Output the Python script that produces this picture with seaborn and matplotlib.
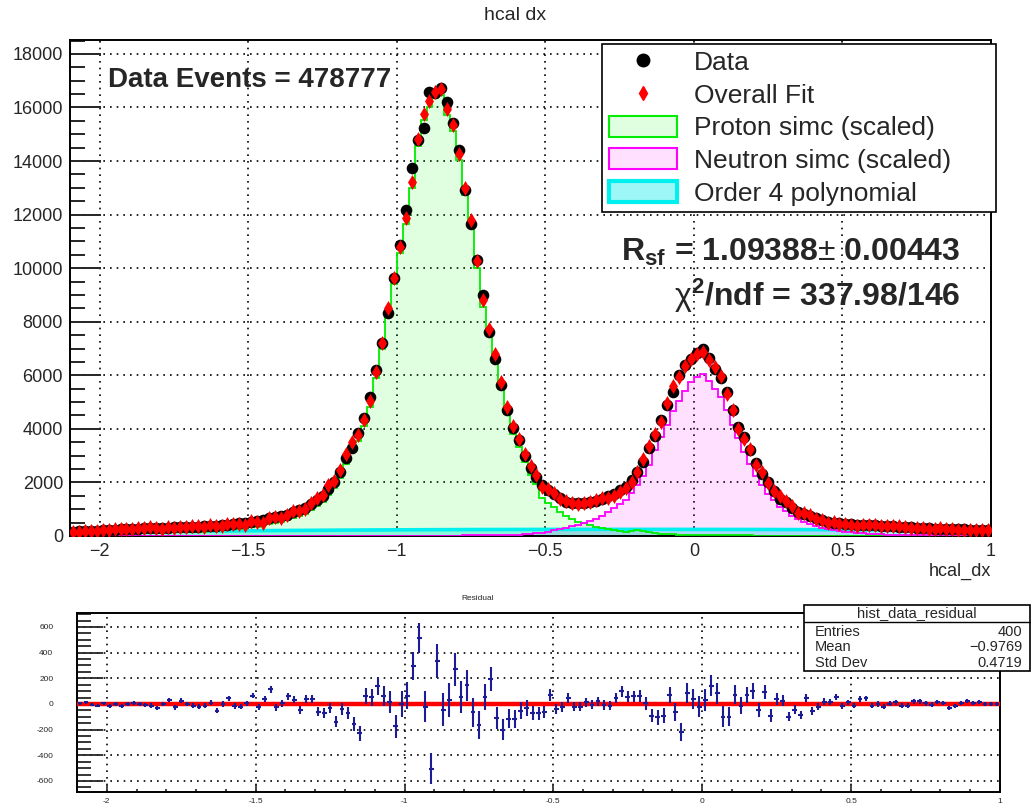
import numpy as np
import matplotlib
matplotlib.use("Agg")
import matplotlib.pyplot as plt
import seaborn as sns
from matplotlib.lines import Line2D
from matplotlib.patches import Patch, Rectangle
from matplotlib.ticker import MultipleLocator, FuncFormatter

# ---------------- data ----------------
x_min, x_max, n_bins = -2.1, 1.0, 155          # hcal_dx binning (0.02 wide)

data_counts = [
    160, 170, 180, 190, 200, 215, 225, 235, 245, 255,
    270, 280, 285, 295, 300, 310, 315, 325, 330, 335,
    340, 350, 360, 375, 390, 405, 425, 445, 470, 495,
    525, 560, 610, 660, 700, 750, 800, 880, 960, 1060,
    1180, 1330, 1500, 1750, 2030, 2400, 2900, 3280, 3830, 4400,
    5200, 6200, 7220, 8320, 9650, 10870, 12170, 13730, 14790, 15250,
    16570, 16530, 16720, 16220, 15410, 14410, 12920, 11650, 10310, 9000,
    7630, 6600, 5640, 4700, 4050, 3590, 3000, 2550, 2215, 1905,
    1720, 1570, 1410, 1280, 1220, 1220, 1245, 1280, 1320, 1390,
    1480, 1580, 1700, 1840, 2090, 2400, 2775, 3275, 3735, 4330,
    4890, 5390, 6010, 6385, 6600, 6820, 7000, 6640, 6220, 5890,
    5390, 4700, 4080, 3710, 3210, 2740, 2315, 2030, 1690, 1380,
    1280, 1035, 910, 820, 745, 660, 600, 535, 500, 475,
    450, 450, 425, 415, 405, 395, 385, 375, 365, 350,
    340, 325, 310, 295, 285, 275, 268, 262, 255, 250,
    245, 238, 230, 222, 215,
]

residual = [
    5, 13, -5, -13, 5, -13, 0, -13, 0, 8,
    0, -10, -13, -30, 0, 32, -26, 26, 0, -13,
    -21, -13, 10, -53, 0, 45, -16, -21, 5, 66,
    -21, 37, 113, -26, 5, 60, 34, -45, 37, 37,
    -60, -71, -32, -137, -40, -71, -153, -229, 65, 52,
    142, 65, 18, -175, 0, 65, 297, 516, -21, -503,
    335, -46, 31, 271, 52, 147, -65, -163, 52, 194,
    -111, -201, -116, -116, -52, -31, -72, -72, -65, 70,
    -39, -26, 46, -21, -21, 13, -5, 21, -8, -13,
    46, 98, 57, 62, 65, 5, -90, -103, -90, 70,
    -65, -219, 83, 39, -21, 31, 142, 83, -98, -98,
    72, -13, 72, 103, -46, 95, -90, 39, 26, -98,
    -45, -84, 45, -55, -21, 18, 18, 58, -16, 13,
    -13, 39, 45, -13, 0, -21, 0, 13, -13, -13,
    21, 21, 5, -5, 16, 10, -32, -13, 10, 26,
    5, 16, 0, 0, 0,
]

proton_simc = [
    40, 45, 52, 58, 65, 75, 82, 88, 95, 102,
    112, 118, 120, 126, 128, 135, 138, 145, 148, 150,
    152, 160, 168, 180, 195, 208, 228, 245, 268, 290,
    318, 350, 395, 445, 490, 535, 585, 665, 745, 840,
    960, 1110, 1280, 1530, 1810, 2180, 2680, 3290, 3540, 4120,
    4830, 5905, 6975, 8265, 9420, 10570, 11640, 12980, 14575, 15515,
    16000, 16340, 16450, 15710, 15120, 14025, 12745, 11570, 10015, 8560,
    7490, 6545, 5490, 4545, 3820, 3325, 2760, 2290, 1925, 1420,
    1250, 1080, 900, 760, 640, 540, 470, 400, 340, 290,
    250, 210, 175, 165, 190, 210, 180, 140, 110, 85,
    70, 60, 55, 50, 45, 40, 38, 35, 32, 30,
    28, 26, 24, 22, 20, 18, 17, 16, 15, 14,
    13, 12, 11, 10, 10, 9, 9, 8, 8, 7,
    7, 6, 6, 5, 5, 5, 4, 4, 4, 3,
    3, 3, 3, 2, 2, 2, 2, 2, 1, 1,
    1, 1, 1, 1, 1,
]

neutron_simc = [
    0, 0, 0, 0, 0, 0, 0, 0, 0, 0,
    0, 0, 0, 0, 0, 0, 0, 0, 0, 0,
    0, 0, 0, 0, 0, 0, 0, 0, 0, 0,
    0, 0, 0, 0, 0, 0, 0, 0, 0, 0,
    1, 1, 1, 1, 2, 2, 2, 2, 3, 3,
    3, 4, 4, 5, 5, 6, 6, 7, 8, 9,
    10, 11, 12, 14, 15, 17, 19, 21, 24, 27,
    30, 34, 38, 43, 48, 55, 65, 80, 100, 130,
    165, 210, 250, 300, 360, 420, 480, 560, 640, 750,
    880, 1030, 1180, 1350, 1600, 1900, 2230, 2650, 3200, 3700,
    4150, 4650, 5050, 5400, 5750, 5950, 6050, 5800, 5500, 5200,
    4700, 4150, 3650, 3150, 2700, 2250, 1900, 1550, 1350, 1100,
    930, 760, 630, 520, 430, 360, 300, 250, 215, 185,
    160, 140, 120, 100, 85, 75, 65, 55, 48, 42,
    36, 32, 28, 25, 22, 20, 18, 16, 15, 14,
    13, 12, 11, 10, 9,
]

poly_x = [-2.1, -2.0, -1.9, -1.8, -1.7, -1.6, -1.5, -1.4, -1.3, -1.2, -1.1,
          -1.0, -0.9, -0.8, -0.7, -0.6, -0.5, -0.4, -0.3, -0.2, -0.1,
          0.0, 0.1, 0.2, 0.3, 0.4, 0.5, 0.6, 0.7, 0.8, 0.9, 1.0]
poly_y = [120, 135, 150, 163, 175, 186, 196, 205, 212, 219, 225,
          230, 235, 239, 242, 244, 246, 247, 248, 248, 248,
          247, 246, 244, 241, 238, 234, 229, 224, 218, 211, 204]

stats_rows = [("Entries", "400"), ("Mean", "\u22120.9769"), ("Std Dev", "0.4719")]

# ---------------- derived ----------------
edges = np.linspace(x_min, x_max, n_bins + 1)
centers = 0.5 * (edges[:-1] + edges[1:])
data_arr = np.array(data_counts, float)
res_arr = np.array(residual, float)
fit_arr = data_arr - res_arr
res_err = np.sqrt(data_arr)

# ---------------- style ----------------
sns.set_style("white")
plt.rcParams['font.family'] = ['Liberation Sans', 'DejaVu Sans']
plt.rcParams['mathtext.fontset'] = 'custom'
plt.rcParams['mathtext.rm'] = 'Liberation Sans'
plt.rcParams['mathtext.bf'] = 'Liberation Sans:bold'
plt.rcParams['mathtext.it'] = 'Liberation Sans:italic'
plt.rcParams['axes.unicode_minus'] = True

W, H = 1031, 805
def fx(px): return px / W
def fy(py): return 1 - py / H

fig = plt.figure(figsize=(W / 100, H / 100), dpi=100)
fig.patch.set_facecolor('white')

ax = fig.add_axes([fx(70), fy(536), (991 - 70) / W, (536 - 40) / H])
ax2 = fig.add_axes([fx(77), fy(792), (1000 - 77) / W, (792 - 613) / H])

GREEN = '#00ee00'
MAGENTA = '#ff00ff'
CYAN = '#00f0f0'
grid_ls = (0, (1, 3))

# ---- main panel ----
ax.fill_between(poly_x, 0, poly_y, color='#9ef7f7', lw=0, zorder=1)
ax.stairs(proton_simc, edges, fill=True, color=(0.0, 1.0, 0.0, 0.12), zorder=1.2)
ax.stairs(neutron_simc, edges, fill=True, color=(1.0, 0.0, 1.0, 0.12), zorder=1.3)
ax.plot(poly_x, poly_y, color=CYAN, lw=2.6, zorder=2, solid_capstyle='butt')
ax.stairs(proton_simc, edges, color=GREEN, lw=1.3, zorder=3)
ax.stairs(neutron_simc, edges, color=MAGENTA, lw=1.3, zorder=3)

sns.scatterplot(x=centers, y=data_arr, ax=ax, marker='o', s=70, color='black',
                edgecolor='black', linewidth=0, zorder=5, legend=False)
sns.scatterplot(x=centers, y=fit_arr, ax=ax, marker='d', s=58, color='red',
                edgecolor='red', linewidth=0, zorder=6, legend=False)

ax.set_xlim(x_min, x_max)
ax.set_ylim(0, 18520)
ax.xaxis.set_major_locator(MultipleLocator(0.5))
ax.xaxis.set_minor_locator(MultipleLocator(0.1))
ax.yaxis.set_major_locator(MultipleLocator(2000))
ax.yaxis.set_minor_locator(MultipleLocator(500))
fmt = FuncFormatter(lambda v, p: ('%g' % v).replace('-', '\u2212'))
ax.xaxis.set_major_formatter(fmt)
ax.tick_params(axis='y', which='major', direction='in', length=22, width=1.4,
               labelsize=13, pad=5, left=True, right=False)
ax.tick_params(axis='y', which='minor', direction='in', length=11, width=1.4,
               left=True, right=False)
ax.tick_params(axis='x', which='major', direction='in', length=7, width=1.2,
               labelsize=13, pad=5, bottom=True, top=False)
ax.tick_params(axis='x', which='minor', direction='in', length=3.5, width=1.2,
               bottom=True, top=False)
ax.grid(True, which='major', color='black', linestyle=grid_ls, lw=1.2)
ax.set_axisbelow(True)
for s in ax.spines.values():
    s.set_color('black')
    s.set_linewidth(1.4)
ax.set_xlabel('hcal_dx', loc='right', fontsize=13, labelpad=2)
ax.set_ylabel('')

handles = [
    Line2D([], [], marker='o', color='black', linestyle='none', markersize=9),
    Line2D([], [], marker='d', color='red', linestyle='none', markersize=7),
    Patch(facecolor=(0.0, 1.0, 0.0, 0.12), edgecolor=GREEN, linewidth=1.5),
    Patch(facecolor=(1.0, 0.0, 1.0, 0.12), edgecolor=MAGENTA, linewidth=1.5),
    Patch(facecolor='#9ef7f7', edgecolor=CYAN, linewidth=3),
]
labels = ['Data', 'Overall Fit', 'Proton simc (scaled)',
          'Neutron simc (scaled)', 'Order 4 polynomial']
leg_x0, leg_x1, leg_y0 = 602, 996, 44
leg = ax.legend(handles, labels, loc='upper left', mode='expand',
                bbox_to_anchor=(fx(leg_x0), fy(leg_y0) - 0.3,
                                fx(leg_x1) - fx(leg_x0), 0.3),
                bbox_transform=fig.transFigure,
                fontsize=19, frameon=True, fancybox=False, edgecolor='black',
                framealpha=1, borderpad=0.25, labelspacing=0.3, handlelength=2.6,
                handleheight=0.85, handletextpad=0.62, borderaxespad=0)
leg.get_frame().set_linewidth(1.2)
leg.set_zorder(20)

fig.text(fx(108), fy(80), 'Data Events = 478777', fontsize=20, fontweight='bold',
         ha='left', va='center')
fig.text(fx(960), fy(252), r'$\mathbf{R}_{\mathbf{sf}}$ = 1.09388$\pm$ 0.00443',
         fontsize=23, fontweight='bold', ha='right', va='center')
fig.text(fx(960), fy(296), r'$\mathrm{\chi}^{\mathbf{2}}$/ndf = 337.98/146',
         fontsize=23, fontweight='bold', ha='right', va='center')
fig.text(0.5, fy(15), 'hcal dx', fontsize=14, ha='center', va='center')

# ---- residual panel ----
ax2.axhline(0, color='red', lw=3.2, zorder=3)
ax2.errorbar(centers, res_arr, yerr=res_err, xerr=0.008, fmt='none',
             ecolor='#1c1c96', elinewidth=1.5, capsize=0, zorder=4)
ax2.set_xlim(x_min, x_max)
ax2.set_ylim(-686, 709)
ax2.xaxis.set_major_locator(MultipleLocator(0.5))
ax2.xaxis.set_minor_locator(MultipleLocator(0.1))
ax2.yaxis.set_major_locator(MultipleLocator(200))
ax2.yaxis.set_minor_locator(MultipleLocator(50))
ax2.xaxis.set_major_formatter(FuncFormatter(lambda v, p: '%g' % v))
ax2.yaxis.set_major_formatter(FuncFormatter(lambda v, p: '%g' % v))
ax2.tick_params(axis='y', which='major', direction='in', length=19, width=1.3,
                labelsize=6, pad=17, left=True, right=False)
ax2.tick_params(axis='y', which='minor', direction='in', length=10, width=1.3,
                left=True, right=False)
ax2.tick_params(axis='x', which='major', direction='in', length=5, width=1.2,
                labelsize=6, pad=4, bottom=True, top=False)
ax2.tick_params(axis='x', which='minor', direction='in', length=2.5, width=1.2,
                bottom=True, top=False)
ax2.grid(True, which='major', color='black', linestyle=grid_ls, lw=1.2)
ax2.set_axisbelow(True)
for s in ax2.spines.values():
    s.set_color('black')
    s.set_linewidth(1.4)
fig.text(fx(478), fy(598), 'Residual', fontsize=6, ha='center', va='center')

# stats box
box = Rectangle((fx(804), fy(671)), fx(1030) - fx(804), fy(605) - fy(671),
                transform=fig.transFigure, facecolor='white', edgecolor='black',
                lw=1.2, zorder=30)
fig.add_artist(box)
fig.add_artist(Line2D([fx(804), fx(1030)], [fy(622), fy(622)],
                      transform=fig.transFigure, color='black', lw=1.0, zorder=31))
fig.text(fx(917), fy(613.5), 'hist_data_residual', fontsize=10.5, ha='center',
         va='center', zorder=32)
for i, (k, v) in enumerate(stats_rows):
    yy = fy(631.5 + i * 15.5)
    fig.text(fx(815), yy, k, fontsize=10.5, ha='left', va='center', zorder=32)
    fig.text(fx(1022), yy, v, fontsize=10.5, ha='right', va='center', zorder=32)

fig.savefig('out.png', dpi=100, facecolor='white')
